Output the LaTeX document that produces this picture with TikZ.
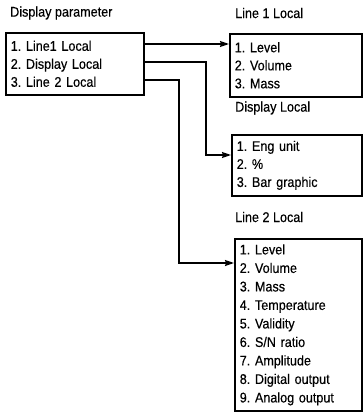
\documentclass[tikz,border=0pt]{standalone}
\usepackage{fontspec}
\setmainfont{Liberation Sans}[FakeStretch=0.9,FakeBold=0.4]
\frenchspacing
\usetikzlibrary{arrows.meta}
\begin{document}
\begin{tikzpicture}[x=1pt,y=-1pt,
  menubox/.style={draw=black, line width=1.6pt, rectangle, anchor=north west,
    align=left, inner xsep=5pt, inner ysep=0pt, font=\fontsize{14}{18}\selectfont\frenchspacing},
  titletext/.style={anchor=west, inner sep=0pt, font=\fontsize{14}{18}\selectfont\frenchspacing},
  conn/.style={line width=1.4pt, -{Stealth[length=9pt,width=6pt,inset=1pt]}}]
\useasboundingbox (0,0) rectangle (363,412);
\node[titletext] (t1) at (10,13) {Display parameter};
\node[titletext] (t2) at (235,13) {Line 1 Local};
\node[titletext] (t3) at (235,108) {Display Local};
\node[titletext] (t4) at (235,217) {Line 2 Local};
\node[menubox, minimum width=138pt, minimum height=62pt, text width=128pt] (b1) at (5,32)
  {1. Line1 Local\\2. Display Local\\3. Line 2 Local};
\node[menubox, minimum width=132pt, minimum height=63pt, text width=122pt] (b2) at (229,33)
  {1. Level\\2. Volume\\3. Mass};
\node[menubox, minimum width=130pt, minimum height=61pt, text width=120pt] (b3) at (231,134)
  {1. Eng unit\\2. \%\\3. Bar graphic};
\node[menubox, minimum width=127pt, minimum height=172pt, text width=117pt,
  font=\fontsize{14}{18.5}\selectfont\frenchspacing] (b4) at (234,238)
  {1. Level\\2. Volume\\3. Mass\\4. Temperature\\5. Validity\\6. S/N ratio\\7. Amplitude\\8. Digital output\\9. Analog output};
\draw[conn] (b1.east |- 0,44) -- (b2.west |- 0,44);
\draw[conn] (b1.east |- 0,62) -| (206,155) -- (b3.west |- 0,155);
\draw[conn] (b1.east |- 0,80) -| (179,263) -- (b4.west |- 0,263);
\end{tikzpicture}
\end{document}
